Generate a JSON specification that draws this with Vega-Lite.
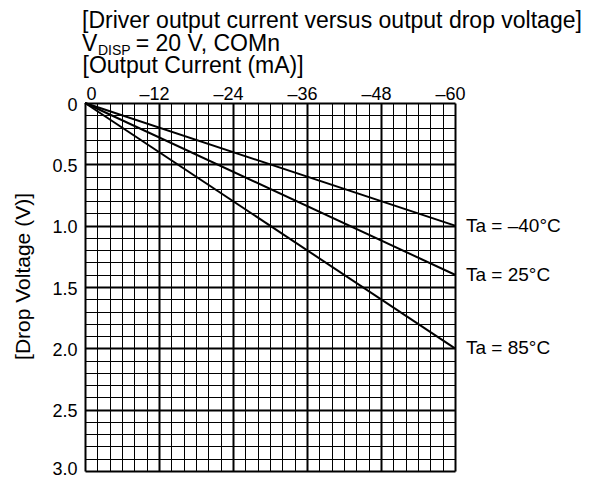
{
  "$schema": "https://vega.github.io/schema/vega-lite/v6.json",
  "width": 370,
  "height": 368,
  "autosize": {"type": "none"},
  "padding": {"left": 85, "top": 103, "right": 161, "bottom": 8},
  "background": "white",
  "config": {"view": {"stroke": null}, "font": "Liberation Sans"},
  "title": {
    "text": ["[Driver output current versus output drop voltage]", "V\u00a0\u00a0\u00a0\u00a0\u00a0\u00a0= 20 V, COMn"],
    "anchor": "start",
    "frame": "group",
    "fontSize": 23,
    "fontWeight": "normal",
    "font": "Liberation Sans",
    "color": "black",
    "lineHeight": 23,
    "dx": -3,
    "offset": -12
  },
  "data": {
    "values": [
      {"Ta": "Ta = –40°C", "current": 0, "voltage": 0},
      {"Ta": "Ta = –40°C", "current": -60, "voltage": 1.0},
      {"Ta": "Ta = 25°C", "current": 0, "voltage": 0},
      {"Ta": "Ta = 25°C", "current": -60, "voltage": 1.4},
      {"Ta": "Ta = 85°C", "current": 0, "voltage": 0},
      {"Ta": "Ta = 85°C", "current": -60, "voltage": 2.0}
    ]
  },
  "encoding": {
    "x": {
      "field": "current",
      "type": "quantitative",
      "scale": {"domain": [-60, 0], "reverse": true, "nice": false, "zero": false},
      "axis": {
        "orient": "top",
        "values": [0, -2, -4, -6, -8, -10, -12, -14, -16, -18, -20, -22, -24, -26, -28, -30, -32, -34, -36, -38, -40, -42, -44, -46, -48, -50, -52, -54, -56, -58, -60],
        "grid": true,
        "gridColor": "black",
        "gridOpacity": 1,
        "gridWidth": {"condition": {"test": "datum.value % 12 === 0", "value": 2}, "value": 1},
        "ticks": false,
        "domain": false,
        "labelExpr": "datum.value === 0 ? '0' : (datum.value % 12 === 0 ? '–' + abs(datum.value) : '')",
        "labelFont": "Liberation Sans",
        "labelFontSize": 18,
        "labelColor": "black",
        "labelOverlap": false,
        "labelBound": false,
        "labelFlush": false,
        "labelPadding": 0,
        "labelAlign": {"condition": {"test": "datum.value === 0", "value": "left"}, "value": "center"},
        "labelOffset": {"condition": {"test": "datum.value === 0", "value": 1}, "value": -5},
        "title": "[Output Current (mA)]",
        "titleFont": "Liberation Sans",
        "titleAnchor": "start",
        "titleAlign": "left",
        "titleFontSize": 23,
        "titleFontWeight": "normal",
        "titleColor": "black",
        "titlePadding": 8,
        "titleX": -3
      }
    },
    "y": {
      "field": "voltage",
      "type": "quantitative",
      "scale": {"domain": [0, 3], "reverse": true, "nice": false, "zero": false},
      "axis": {
        "orient": "left",
        "values": [0, 0.1, 0.2, 0.3, 0.4, 0.5, 0.6, 0.7, 0.8, 0.9, 1.0, 1.1, 1.2, 1.3, 1.4, 1.5, 1.6, 1.7, 1.8, 1.9, 2.0, 2.1, 2.2, 2.3, 2.4, 2.5, 2.6, 2.7, 2.8, 2.9, 3.0],
        "grid": true,
        "gridColor": "black",
        "gridOpacity": 1,
        "gridWidth": {"condition": {"test": "abs(datum.value * 2 - round(datum.value * 2)) < 0.001", "value": 2}, "value": 1},
        "ticks": false,
        "domain": false,
        "labelExpr": "abs(datum.value * 2 - round(datum.value * 2)) < 0.001 ? (datum.value === 0 ? '0' : format(datum.value, '.1f')) : ''",
        "labelFont": "Liberation Sans",
        "labelFontSize": 18,
        "labelColor": "black",
        "labelOverlap": false,
        "labelBound": false,
        "labelFlush": false,
        "labelPadding": 8,
        "labelOffset": {"condition": {"test": "datum.value > 2.9", "value": -2}, "value": 2},
        "title": "[Drop Voltage (V)]",
        "titleFont": "Liberation Sans",
        "titleFontSize": 21,
        "titleFontWeight": "normal",
        "titleColor": "black",
        "titlePadding": 19,
        "titleX": -52,
        "titleY": 173
      }
    }
  },
  "layer": [
    {
      "mark": {"type": "line", "color": "black", "strokeWidth": 2},
      "encoding": {"detail": {"field": "Ta"}}
    },
    {
      "transform": [{"filter": "datum.current === -60"}],
      "mark": {"type": "text", "align": "left", "baseline": "middle", "dx": 11, "fontSize": 19, "font": "Liberation Sans", "color": "black"},
      "encoding": {"text": {"field": "Ta"}}
    },
    {
      "transform": [{"filter": "datum.current === 0 && datum.Ta === 'Ta = 25°C'"}],
      "mark": {"type": "text", "text": "DISP", "align": "left", "baseline": "alphabetic", "dx": 13, "dy": -48, "fontSize": 14, "font": "Liberation Sans", "color": "black"},
      "encoding": {}
    }
  ]
}
